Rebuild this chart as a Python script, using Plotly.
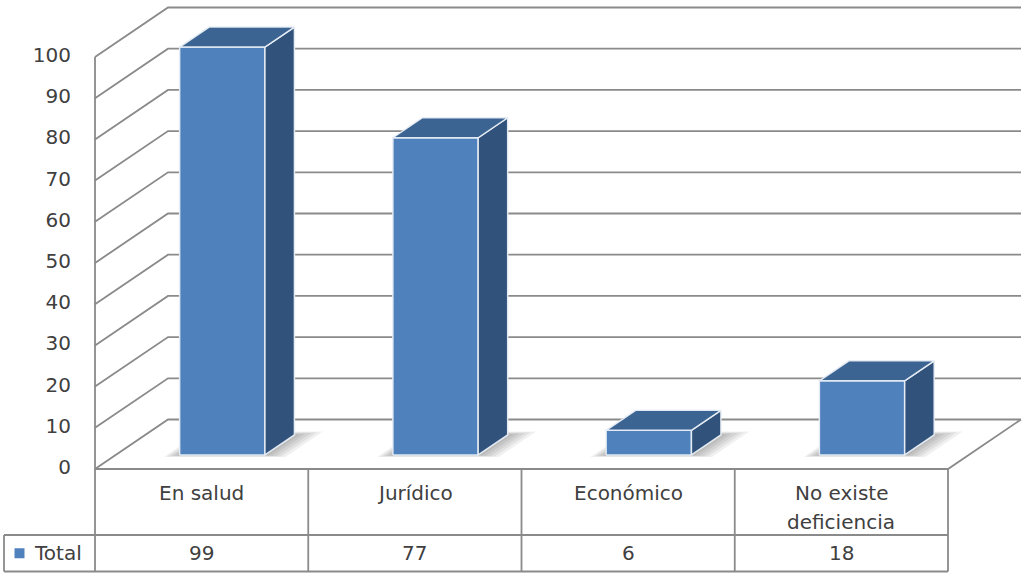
import numpy as np
import plotly.graph_objects as go

# ---- data ----
categories = ["En salud", "Jurídico", "Económico", "No existe<br>deficiencia"]
totals = [99, 77, 6, 18]
series_name = "Total"
y_ticks = [0, 10, 20, 30, 40, 50, 60, 70, 80, 90, 100]

# ---- oblique 3D projection helpers ----
W, H = 1025, 573
SLOT_PX = 213.25          # pixel width of one category slot
VAL_PX = 4.12             # pixels per value unit
X0_PX, Y0_PX = 95, 469    # front-left-bottom corner of the plot box
DEPTH_DX = 73 / SLOT_PX   # depth shift in slot units
DEPTH_DY = 49.5 / VAL_PX  # depth shift in value units
N = len(categories)
VMAX = 100
BAR_HALF = 0.2
D1, D2 = 0.283, 0.687     # front / back depth of the columns

GRID = "#8a8a8a"
TXT = "#404040"
FONT = "DejaVu Sans"
FSIZE = 20
FRONT, TOP, SIDE = "#4f81bd", "#3c6493", "#30527b"
EDGE = "rgba(232,238,246,0.95)"


def proj(u, v, d):
    u = np.asarray(u, float)
    v = np.asarray(v, float)
    d = np.asarray(d, float)
    return u + d * DEPTH_DX, v + d * DEPTH_DY


fig = go.Figure()


def line(u, v, d, color=GRID, width=1.8, yaxis="y"):
    x, y = proj(u, v, d)
    fig.add_trace(go.Scatter(x=x, y=y, mode="lines", yaxis=yaxis,
                             line=dict(color=color, width=width),
                             hoverinfo="skip", showlegend=False))


def face(u, v, d, fill, edge=EDGE, width=1.5, opacity=1.0):
    x, y = proj(u, v, d)
    x = np.append(x, x[0])
    y = np.append(y, y[0])
    fig.add_trace(go.Scatter(x=x, y=y, mode="lines", fill="toself",
                             fillcolor=fill, opacity=opacity,
                             line=dict(color=edge, width=width),
                             hoverinfo="skip", showlegend=False))


# walls: diagonal gridlines on the side wall, horizontal ones on the back wall
for t in y_ticks:
    line([0, 0, N], [t, t, t], [0, 1, 1])
# floor outline and front vertical edge
line([0, N, N], [0, 0, 0], [0, 0, 1])
line([0, 0], [0, VMAX], [0, 0])

# soft floor shadows under the columns
for i, val in enumerate(totals):
    c = i + 0.5
    for k in range(1, 6):
        u0, u1 = c - BAR_HALF - 0.012 * k, c + BAR_HALF + 0.022 * k
        d0, d1 = D1 - 0.008 * k, D2 + 0.014 * k
        face([u0, u1, u1, u0], [0, 0, 0, 0], [d0, d0, d1, d1],
             "rgba(0,0,0,1)", edge="rgba(0,0,0,0)", width=0, opacity=0.06)

# 3D columns
for i, val in enumerate(totals):
    c = i + 0.5
    l, r = c - BAR_HALF, c + BAR_HALF
    face([l, r, r, l], [0, 0, val, val], [D1, D1, D1, D1], FRONT)
    face([r, r, r, r], [0, 0, val, val], [D1, D2, D2, D1], SIDE)
    face([l, r, r, l], [val, val, val, val], [D1, D1, D2, D2], TOP)

# value axis labels along the front edge
tick_x = (71 - X0_PX) / SLOT_PX
fig.add_trace(go.Scatter(x=[tick_x] * len(y_ticks), y=y_ticks, mode="text",
                         text=[str(t) for t in y_ticks],
                         textposition="middle left",
                         textfont=dict(family=FONT, size=FSIZE, color=TXT),
                         hoverinfo="skip", showlegend=False))

# ---- data table (second y axis in row units) ----
ROW_PX = 36.5
TB_BOTTOM_PX = 571.5
cat_top = (TB_BOTTOM_PX - Y0_PX) / ROW_PX
left_u = (4 - X0_PX) / SLOT_PX
tline = dict(color=GRID, width=1.8)


def tl(x, y):
    fig.add_trace(go.Scatter(x=x, y=y, mode="lines", yaxis="y2", line=tline,
                             hoverinfo="skip", showlegend=False))


tl([left_u, N], [1, 1])
tl([left_u, N], [0, 0])
tl([left_u, left_u], [0, 1])
for k in range(N + 1):
    tl([k, k], [0, cat_top])

# category names and values
for i, (cat, val) in enumerate(zip(categories, totals)):
    for j, part in enumerate(cat.split("<br>")):
        fig.add_annotation(x=i + 0.5, y=(TB_BOTTOM_PX - 493 - 29 * j) / ROW_PX,
                           xref="x", yref="y2", text=part, showarrow=False,
                           font=dict(family=FONT, size=FSIZE, color=TXT))
    fig.add_annotation(x=i + 0.5, y=0.5, xref="x", yref="y2", text=str(val),
                       showarrow=False,
                       font=dict(family=FONT, size=FSIZE, color=TXT))

# legend key + series name
fig.add_trace(go.Scatter(x=[(19.5 - X0_PX) / SLOT_PX], y=[0.5], yaxis="y2",
                         mode="markers",
                         marker=dict(symbol="square", size=10, color=FRONT),
                         hoverinfo="skip", showlegend=False))
fig.add_annotation(x=(32 - X0_PX) / SLOT_PX, y=0.5, xref="x", yref="y2",
                   text=series_name, showarrow=False, xanchor="left",
                   font=dict(family=FONT, size=FSIZE, color=TXT))

hidden = dict(visible=False, showgrid=False, zeroline=False, fixedrange=True)
fig.update_layout(
    width=W, height=H,
    margin=dict(l=0, r=0, t=0, b=0),
    paper_bgcolor="white", plot_bgcolor="white",
    showlegend=False,
    xaxis=dict(range=[-X0_PX / SLOT_PX, (W - X0_PX) / SLOT_PX], **hidden),
    yaxis=dict(range=[-(H - Y0_PX) / VAL_PX, Y0_PX / VAL_PX], **hidden),
    yaxis2=dict(range=[-(H - TB_BOTTOM_PX) / ROW_PX, TB_BOTTOM_PX / ROW_PX],
                overlaying="y", **hidden),
)

fig.write_html("out.html")
